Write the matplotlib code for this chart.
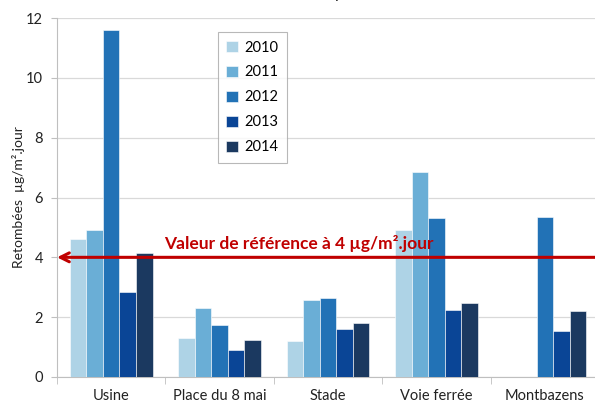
import matplotlib.pyplot as plt
import numpy as np

plt.rcParams["font.family"] = ["Lato", "DejaVu Sans"]

sites = ["Usine", "Place du 8 mai", "Stade", "Voie ferrée", "Montbazens"]
years = ["2010", "2011", "2012", "2013", "2014"]
v2010 = [4.61, 1.32, 1.19, 4.93, np.nan]
v2011 = [4.93, 2.31, 2.58, 6.86, np.nan]
v2012 = [11.61, 1.74, 2.64, 5.32, 5.34]
v2013 = [2.83, 0.90, 1.59, 2.23, 1.55]
v2014 = [4.16, 1.23, 1.80, 2.46, 2.19]
series = [v2010, v2011, v2012, v2013, v2014]
colors = ["#aed3e6", "#6aaed6", "#2272b6", "#0a4596", "#1b3960"]
ref_value = 4

fig = plt.figure(figsize=(5.95, 4.03), dpi=100)
ax = fig.add_axes([57 / 595, 26 / 403, 542 / 595, 359 / 403])

x = np.arange(len(sites))
w = 0.153
for i, (vals, c, yr) in enumerate(zip(series, colors, years)):
    ax.bar(x + (i - 2) * w, vals, w, color=c, label=yr,
           edgecolor="white", linewidth=0.4, zorder=3)

ax.set_xlim(-0.5, 4.5)
ax.set_ylim(0, 12)
ax.set_yticks(range(0, 13, 2))
ax.grid(axis="y", color="#d9d9d9", linewidth=0.9, zorder=0)

ax.set_xticks(x)
ax.set_xticklabels(sites, fontsize=10.5, color="#222222")
ax.set_xticks(np.arange(-0.5, 5, 1), minor=True)
ax.tick_params(axis="x", which="major", length=0, pad=9)
ax.tick_params(axis="x", which="minor", length=5, color="#bfbfbf")
ax.tick_params(axis="y", length=4, color="#bfbfbf", labelsize=10.5,
               labelcolor="#222222", pad=6)
for s in ["top", "right"]:
    ax.spines[s].set_visible(False)
for s in ["left", "bottom"]:
    ax.spines[s].set_color("#bfbfbf")

ax.set_ylabel("Retombées  µg/m².jour", fontsize=10, color="#222222", labelpad=1)

# ligne de référence
ax.annotate("", xy=(-0.5, ref_value), xytext=(4.75, ref_value),
            arrowprops=dict(arrowstyle="->", color="#c00000", lw=2.2,
                            mutation_scale=16, shrinkA=0, shrinkB=0),
            zorder=5, annotation_clip=False)
ax.text(0.49, 4.45, "Valeur de référence à 4 µg/m².jour", color="#c00000",
        fontsize=12.5, fontweight="bold", va="center", ha="left", zorder=6)

leg = ax.legend(loc="upper left", bbox_to_anchor=(0.283, 0.982), fontsize=10.5,
                frameon=True, fancybox=False, edgecolor="#a6a6a6",
                handlelength=0.8, handleheight=0.8, handletextpad=0.4,
                labelspacing=0.75, borderpad=0.6)
leg.get_frame().set_linewidth(0.8)

fig.text(0.51, 1.0 + 2.5 / 403, "Retombées en plomb", ha="center", va="baseline",
         fontsize=12, color="#222222")

fig.savefig("out.png", dpi=100)
